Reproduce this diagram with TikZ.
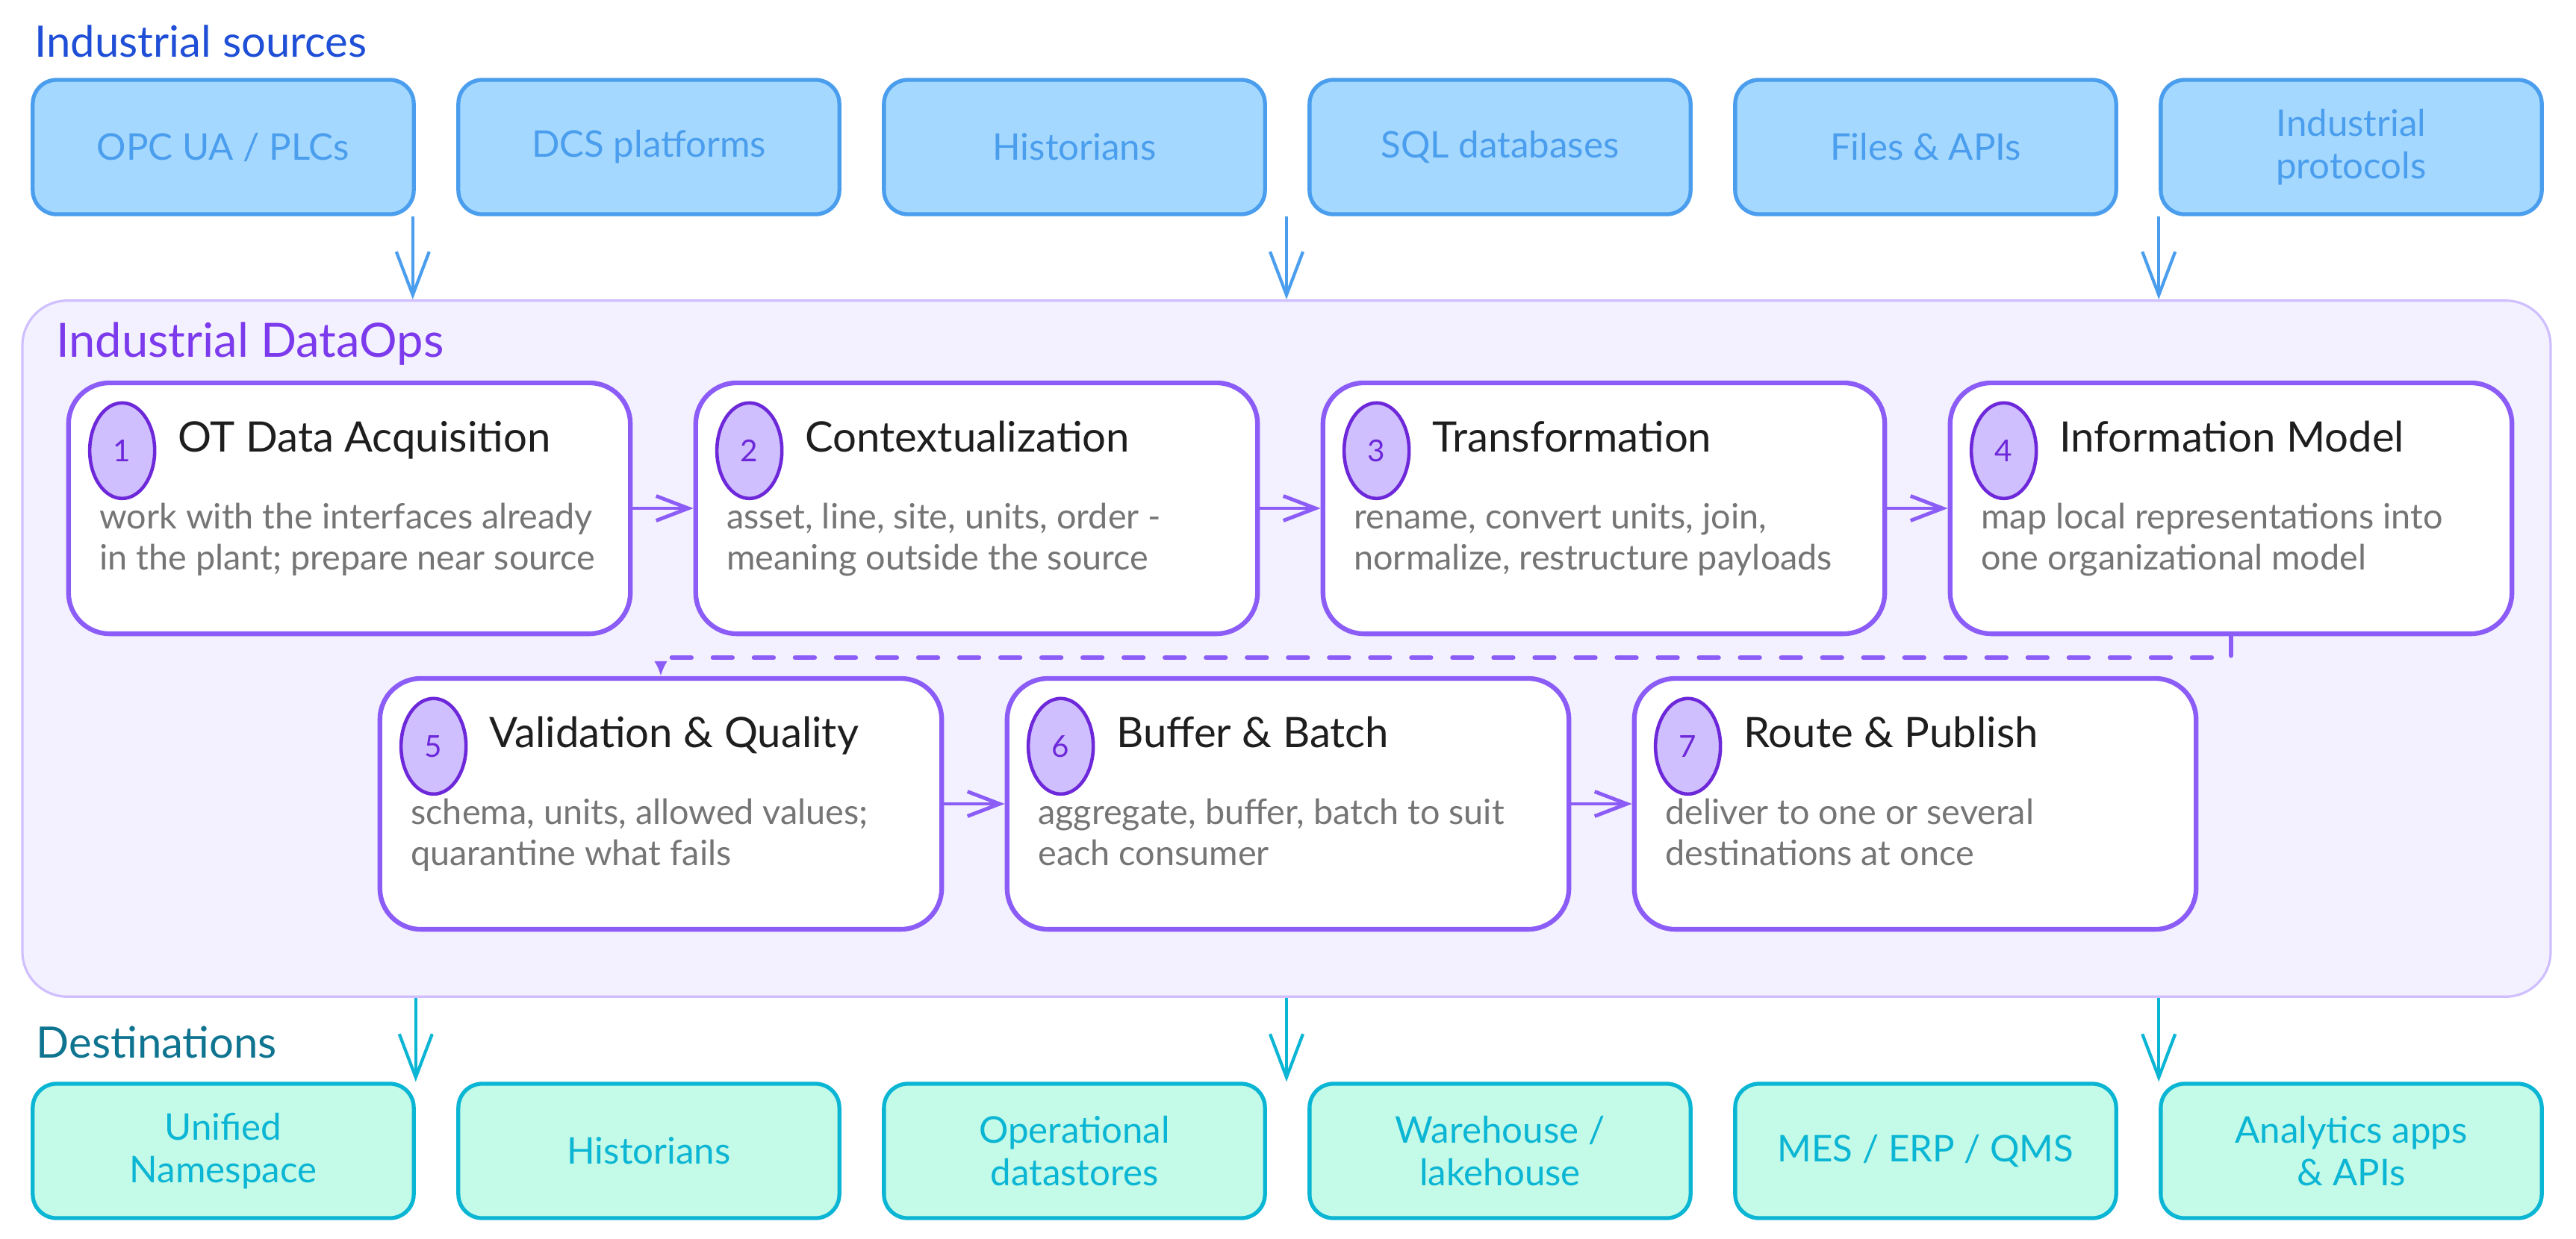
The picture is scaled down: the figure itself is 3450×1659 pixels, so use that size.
\documentclass[tikz,border=0pt]{standalone}
\usepackage{fontspec}
\setmainfont{Lato}
\usetikzlibrary{arrows.meta,shapes.geometric,calc}
\definecolor{srcfill}{HTML}{A5D8FF}
\definecolor{srcline}{HTML}{4A9EED}
\definecolor{srctitle}{HTML}{1F4FD6}
\definecolor{opsfill}{HTML}{F3F0FF}
\definecolor{opsline}{HTML}{D0BFFF}
\definecolor{opstitle}{HTML}{7C3AED}
\definecolor{stline}{HTML}{8B5CF6}
\definecolor{badgefill}{HTML}{D0BFFF}
\definecolor{badgeline}{HTML}{6D28D9}
\definecolor{titletext}{HTML}{1E1E1E}
\definecolor{desctext}{HTML}{757575}
\definecolor{dstfill}{HTML}{C3FAE8}
\definecolor{dstline}{HTML}{0BB5D4}
\definecolor{dsttitle}{HTML}{0E7490}
\tikzset{
  srcbox/.style={draw=srcline, fill=srcfill, line width=1.5pt, rounded corners=0.32cm,
    minimum width=5.1cm, minimum height=1.8cm, align=center, text=srcline,
    font=\fontsize{14}{16.2}\selectfont, inner sep=0pt},
  dstbox/.style={srcbox, draw=dstline, fill=dstfill, text=dstline},
  opsbox/.style={draw=opsline, fill=opsfill, line width=0.9pt, rounded corners=0.6cm,
    minimum width=33.84cm, minimum height=9.32cm, inner sep=0pt},
  stagebox/.style={draw=stline, fill=white, line width=1.8pt, rounded corners=0.55cm,
    minimum width=7.52cm, minimum height=3.36cm, inner sep=0pt},
  badge/.style={ellipse, draw=badgeline, fill=badgefill, line width=1.3pt,
    minimum width=0.87cm, minimum height=1.28cm, inner sep=0pt, text=badgeline,
    font=\fontsize{11.5}{13}\selectfont},
  sttitle/.style={anchor=base west, inner sep=0pt, text=titletext, font=\fontsize{16}{19}\selectfont},
  stdesc/.style={anchor=base west, inner sep=0pt, text=desctext, font=\fontsize{13.3}{15}\selectfont},
  section/.style={anchor=base west, inner sep=0pt, font=\fontsize{16.5}{19}\selectfont},
  srcarr/.style={draw=srcline, line width=1.2pt, -{Straight Barb[length=0.58cm,width=0.44cm,line width=1.2pt]}},
  dstarr/.style={srcarr, draw=dstline},
  starr/.style={draw=stline, line width=1.4pt, -{Straight Barb[length=0.43cm,width=0.33cm,line width=1.4pt]}},
  dasharr/.style={draw=stline, line width=1.8pt, line cap=round, dash pattern=on 0.26cm off 0.29cm,
    -{Latex[length=0.2cm,width=0.18cm]}},
}
\newcommand{\mkstage}[6]{%
  \node[stagebox] (#1) at (#2) {};
  \node[badge] (#1n) at ([xshift=0.75cm,yshift=-0.94cm]#1.north west) {#3};
  \node[sttitle] (#1t) at ([xshift=1.49cm,yshift=-0.96cm]#1.north west) {#4};
  \node[stdesc] (#1a) at ([xshift=0.44cm,yshift=-1.99cm]#1.north west) {#5};
  \node[stdesc] (#1b) at ([xshift=0.44cm,yshift=-2.54cm]#1.north west) {#6};
}
\begin{document}
\begin{tikzpicture}[x=0.01cm,y=-0.01cm]
\useasboundingbox (0,0) rectangle (3450,1659);
\fill[white] (0,0) rectangle (3450,1659);

% section labels
\node[section, text=srctitle] (lsrc) at (46,76) {Industrial sources};

% sources
\node[srcbox] (src1) at (299,197) {OPC UA / PLCs};
\node[srcbox] (src2) at (869,197) {DCS platforms};
\node[srcbox] (src3) at (1439,197) {Historians};
\node[srcbox] (src4) at (2009,197) {SQL databases};
\node[srcbox] (src5) at (2579,197) {Files \& APIs};
\node[srcbox] (src6) at (3149,197) {Industrial\\protocols};

% container
\node[opsbox] (ops) at (1723,869) {};
\node[section, text=opstitle, font=\fontsize{18}{21}\selectfont] (lops) at ([xshift=0.46cm,yshift=-0.77cm]ops.north west) {Industrial DataOps};

% stages
\mkstage{st1}{468,681}{1}{OT Data Acquisition}{work with the interfaces already}{in the plant; prepare near source}
\mkstage{st2}{1308,681}{2}{Contextualization}{asset, line, site, units, order -}{meaning outside the source}
\mkstage{st3}{2148,681}{3}{Transformation}{rename, convert units, join,}{normalize, restructure payloads}
\mkstage{st4}{2988,681}{4}{Information Model}{map local representations into}{one organizational model}
\mkstage{st5}{885,1077}{5}{Validation \& Quality}{schema, units, allowed values;}{quarantine what fails}
\mkstage{st6}{1725,1077}{6}{Buffer \& Batch}{aggregate, buffer, batch to suit}{each consumer}
\mkstage{st7}{2565,1077}{7}{Route \& Publish}{deliver to one or several}{destinations at once}

\draw[starr] (st1.east) -- (st2.west);
\draw[starr] (st2.east) -- (st3.west);
\draw[starr] (st3.east) -- (st4.west);
\draw[dasharr] (st4.south) -- ++(0,29) -| (st5.north);
\draw[starr] (st5.east) -- (st6.west);
\draw[starr] (st6.east) -- (st7.west);

% source arrows
\coordinate (a1) at ([xshift=-0.04cm]src1.south east);
\draw[srcarr] (a1) -- (a1 |- ops.north);
\draw[srcarr] (ops.north |- src3.south) -- (ops.north);
\draw[srcarr] (src6.south west) -- (src6.south west |- ops.north);

% destinations
\node[section, text=dsttitle] (ldst) at (48,1417) {Destinations};
\node[dstbox] (dst1) at (299,1542) {Unified\\Namespace};
\node[dstbox] (dst2) at (869,1542) {Historians};
\node[dstbox] (dst3) at (1439,1542) {Operational\\datastores};
\node[dstbox] (dst4) at (2009,1542) {Warehouse /\\lakehouse};
\node[dstbox] (dst5) at (2579,1542) {MES / ERP / QMS};
\node[dstbox] (dst6) at (3149,1542) {Analytics apps\\\& APIs};

\draw[dstarr] (dst1.north east |- ops.south) -- (dst1.north east);
\draw[dstarr] (ops.south) -- (ops.south |- dst3.north);
\draw[dstarr] (dst6.north west |- ops.south) -- (dst6.north west);
\end{tikzpicture}
\end{document}
